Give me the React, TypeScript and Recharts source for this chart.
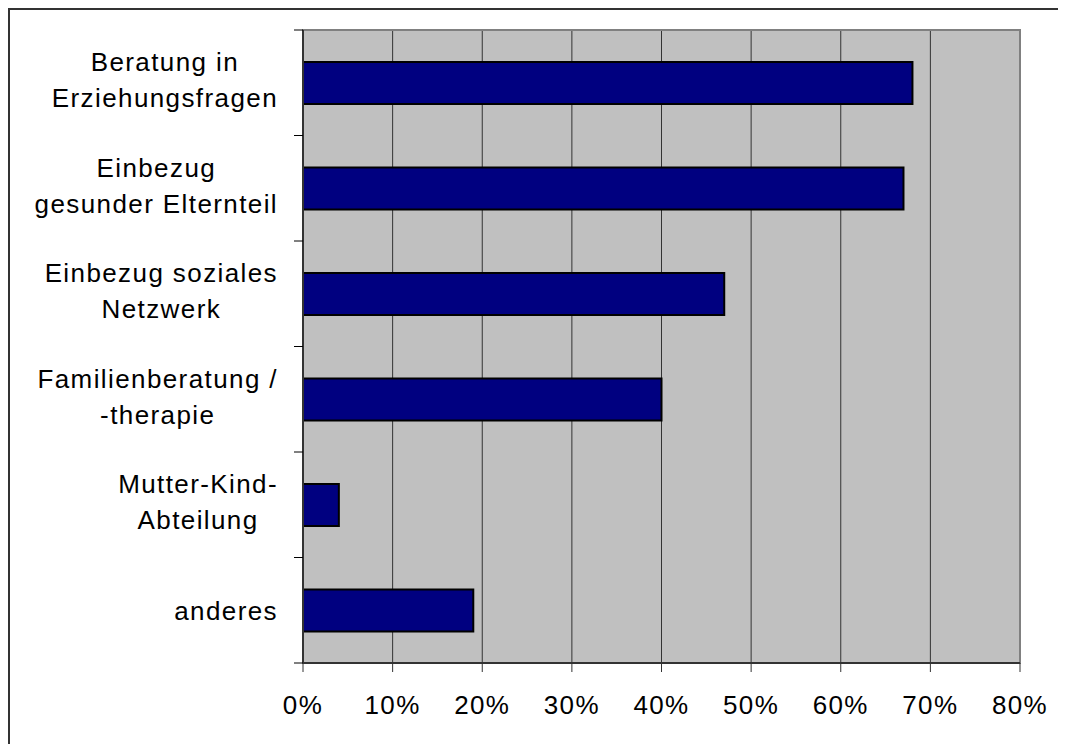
import React from 'react';
import {
  BarChart,
  Bar,
  XAxis,
  YAxis,
  CartesianGrid,
  ReferenceArea
} from 'recharts';

// Categories (top to bottom) and shares in percent
const categories = [
  'Beratung in\nErziehungsfragen',
  'Einbezug\ngesunder Elternteil',
  'Einbezug soziales\nNetzwerk',
  'Familienberatung /\n-therapie',
  'Mutter-Kind-\nAbteilung',
  'anderes'
];
const shares = [68, 67, 47, 40, 4, 19];
const xTicks = [0, 10, 20, 30, 40, 50, 60, 70, 80];

const data = categories.map((name, i) => ({ name, value: shares[i] }));

const FONT = '"Liberation Sans", Arial, sans-serif';
const FONT_SIZE = 26;
const LETTER_SPACING = 1.4;
const LINE_H = 36;
const CAT_MARGIN = 25;
const TICK_LEN = 9;

let ctx: CanvasRenderingContext2D | null = null;
const measure = (s: string) => {
  if (!ctx) {
    ctx = document.createElement('canvas').getContext('2d');
  }
  if (!ctx) return s.length * FONT_SIZE * 0.5;
  ctx.font = `${FONT_SIZE}px "Liberation Sans"`;
  return ctx.measureText(s).width + s.length * LETTER_SPACING;
};

// label lines centred on each other, block right-aligned; tick marks on the category boundaries
const CategoryTick = (props: any) => {
  const { x, y, payload, index } = props;
  const lines: string[] = String(payload.value).split('\n');
  const maxW = Math.max(...lines.map(measure));
  const cx = x - maxW / 2;
  const axisX = x + CAT_MARGIN;
  const half = payload.offset ?? 0;
  const shift = lines.length > 1 ? -3 : 0;
  return (
    <g>
      <line x1={axisX - TICK_LEN} x2={axisX} y1={y - half} y2={y - half} stroke="#000" />
      {index === categories.length - 1 && (
        <line x1={axisX - TICK_LEN} x2={axisX} y1={y + half} y2={y + half} stroke="#000" />
      )}
      {lines.map((line, i) => (
        <text
          key={i}
          x={cx}
          y={y + shift + (i - (lines.length - 1) / 2) * LINE_H + FONT_SIZE * 0.36}
          textAnchor="middle"
          fill="#000"
          fontFamily={FONT}
          fontSize={FONT_SIZE}
          letterSpacing={LETTER_SPACING}
        >
          {line}
        </text>
      ))}
    </g>
  );
};

const PercentTick = (props: any) => {
  const { x, y, payload } = props;
  return (
    <text
      x={x}
      y={y + FONT_SIZE * 0.72}
      textAnchor="middle"
      fill="#000"
      fontFamily={FONT}
      fontSize={FONT_SIZE}
      letterSpacing={LETTER_SPACING}
    >
      {`${payload.value}%`}
    </text>
  );
};

export default function App() {
  return (
    <div style={{ width: 1050, height: 736, overflow: 'hidden' }}>
      <div style={{ width: 1100, height: 800, border: '2px solid #333', boxSizing: 'border-box' }}>
        <BarChart
          layout="vertical"
          width={1040}
          height={740}
          data={data}
          margin={{ top: 20, right: 30, left: 0, bottom: 0 }}
          barSize={42}
        >
          <CartesianGrid
            horizontal={false}
            fill="#C0C0C0"
            fillOpacity={1}
            stroke="#333"
            strokeWidth={1}
          />
          <ReferenceArea
            x1={0}
            x2={80}
            fill="none"
            stroke="#808080"
            strokeWidth={2}
            ifOverflow="visible"
          />
          <XAxis
            type="number"
            domain={[0, 80]}
            ticks={xTicks}
            interval={0}
            height={87}
            tickSize={TICK_LEN}
            tickMargin={23}
            axisLine={{ stroke: '#333', strokeWidth: 2 }}
            tickLine={{ stroke: '#333' }}
            tick={<PercentTick />}
          />
          <YAxis
            type="category"
            dataKey="name"
            width={293}
            tickLine={false}
            axisLine={{ stroke: '#333', strokeWidth: 2 }}
            tickSize={0}
            tickMargin={CAT_MARGIN}
            interval={0}
            tick={<CategoryTick />}
          />
          <Bar
            dataKey="value"
            fill="#000080"
            stroke="#000"
            strokeWidth={2}
            isAnimationActive={false}
          />
        </BarChart>
      </div>
    </div>
  );
}
